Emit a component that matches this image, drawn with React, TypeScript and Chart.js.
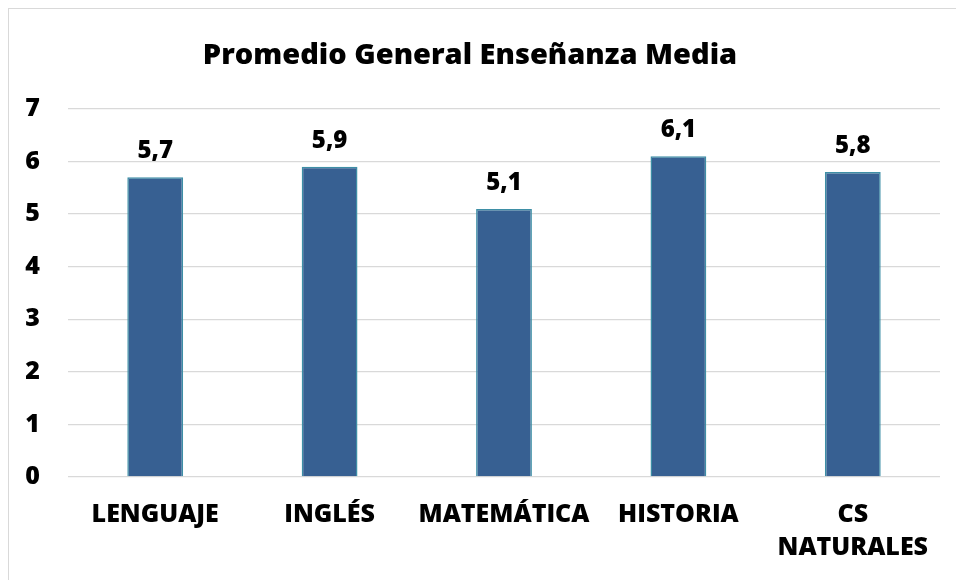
import React, { useEffect, useRef } from "react";
import { Chart, registerables } from "chart.js";

Chart.register(...registerables);

const TITLE = "Promedio General Enseñanza Media";
const categories: (string | string[])[] = [
  "LENGUAJE",
  "INGLÉS",
  "MATEMÁTICA",
  "HISTORIA",
  ["CS", "NATURALES"],
];
const values: number[] = [5.7, 5.9, 5.1, 6.1, 5.8];
const yMin = 0;
const yMax = 7;
const yStep = 1;

const FONT = "'Open Sans', 'Liberation Sans', sans-serif";
const WEIGHT = 800;

const formatValue = (v: number) => v.toFixed(1).replace(".", ",");

const dataLabels = {
  id: "dataLabels",
  afterDatasetsDraw(chart: any) {
    const ctx = chart.ctx;
    const meta = chart.getDatasetMeta(0);
    ctx.save();
    ctx.font = `${WEIGHT} 24px ${FONT}`;
    ctx.fillStyle = "#000000";
    ctx.textAlign = "center";
    ctx.textBaseline = "alphabetic";
    meta.data.forEach((bar: any, i: number) => {
      ctx.fillText(formatValue(values[i]), bar.x, bar.y - 19);
    });
    ctx.restore();
  },
};

export default function App() {
  const canvasRef = useRef<HTMLCanvasElement | null>(null);

  useEffect(() => {
    if (!canvasRef.current) return;
    const chart = new Chart(canvasRef.current, {
      type: "bar",
      data: {
        labels: categories,
        datasets: [
          {
            data: values,
            backgroundColor: "#376092",
            borderColor: "#3E8FA6",
            borderWidth: 1.5,
            barPercentage: 0.32,
            categoryPercentage: 1,
          },
        ],
      },
      options: {
        responsive: false,
        animation: false,
        layout: { padding: { left: 0, right: 16, top: 0, bottom: 0 } },
        plugins: {
          legend: { display: false },
          tooltip: { enabled: false },
          title: {
            display: true,
            text: TITLE,
            color: "#000000",
            font: { family: FONT, size: 29, weight: WEIGHT as any, lineHeight: 1.2 },
            padding: { top: 38, bottom: 36.2 },
          },
        },
        scales: {
          x: {
            grid: { display: false, drawTicks: false },
            border: { display: false },
            ticks: {
              color: "#000000",
              font: { family: FONT, size: 25, weight: WEIGHT as any, lineHeight: 1.32 },
              padding: 21,
              maxRotation: 0,
              autoSkip: false,
            },
            afterFit(scale: any) {
              scale.height = 103;
            },
          },
          y: {
            min: yMin,
            max: yMax,
            grid: { color: "#d9d9d9", lineWidth: 1.3, drawTicks: false },
            border: { display: false },
            ticks: {
              stepSize: yStep,
              color: "#000000",
              font: { family: FONT, size: 25, weight: WEIGHT as any },
              padding: 28,
            },
            afterFit(scale: any) {
              scale.width = 68;
            },
          },
        },
      },
      plugins: [dataLabels],
    });
    return () => chart.destroy();
  }, []);

  return (
    <div
      style={{
        position: "absolute",
        left: 0,
        top: 0,
        width: 956,
        height: 580,
        overflow: "hidden",
        background: "#ffffff",
      }}
    >
      <div
        style={{
          position: "absolute",
          left: 8,
          top: 8,
          width: 1000,
          height: 700,
          border: "1.5px solid #d9d9d9",
          boxSizing: "border-box",
        }}
      />
      <canvas
        ref={canvasRef}
        width={956}
        height={580}
        style={{ position: "absolute", left: 0, top: 0 }}
      />
    </div>
  );
}
